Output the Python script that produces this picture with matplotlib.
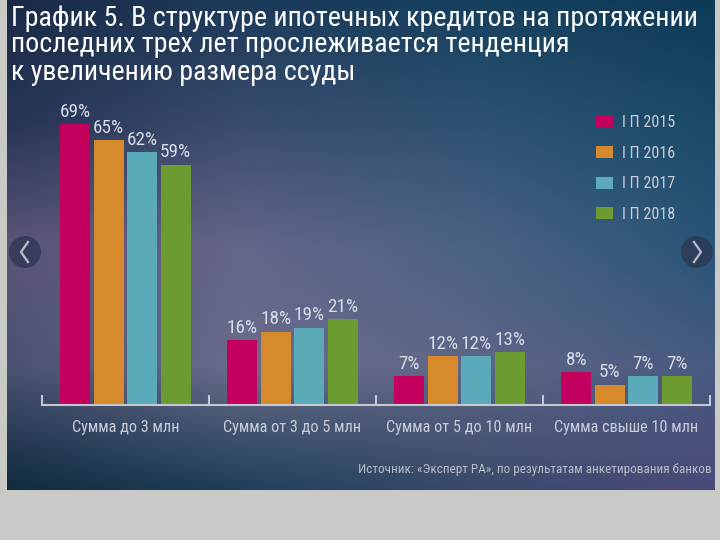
import numpy as np
import matplotlib
matplotlib.use("Agg")
import matplotlib.pyplot as plt
from matplotlib import font_manager
from matplotlib.colors import to_rgb

# Узкий шрифт, если есть
available = {f.name for f in font_manager.fontManager.ttflist}
narrow = 'DejaVu Sans'
for name in ['Liberation Sans Narrow', 'Roboto Condensed', 'Open Sans Condensed', 'Liberation Sans', 'Roboto']:
    if name in available:
        narrow = name
        break
plt.rcParams['font.family'] = [narrow, 'DejaVu Sans']

# Данные
categories = ['Сумма до 3 млн', 'Сумма от 3 до 5 млн', 'Сумма от 5 до 10 млн', 'Сумма свыше 10 млн']
series = ['I П 2015', 'I П 2016', 'I П 2017', 'I П 2018']
values = [
    [69, 16, 7, 8],
    [65, 18, 12, 5],
    [62, 19, 12, 7],
    [59, 21, 13, 7],
]
colors = ['#c4005f', '#d68a2c', '#5aaab9', '#6c9b32']

W, H = 720, 540
fig = plt.figure(figsize=(W / 100, H / 100), dpi=100)
fig.patch.set_facecolor('#c9c9c5')
renderer = fig.canvas.get_renderer()


def fit(t, target_px):
    w = t.get_window_extent(renderer=renderer).width
    t.set_fontsize(t.get_fontsize() * target_px / w)


# фон-градиент (сетка опорных цветов)
grid = [
    ['#1a2a46', '#1c3a5a', '#15405e', '#0e3a56'],
    ['#283555', '#3a4c6c', '#2e5272', '#1a4a68'],
    ['#5a5478', '#64668a', '#4a6284', '#285578'],
    ['#4a5272', '#6a6c8a', '#5e6686', '#485a80'],
    ['#102a3e', '#1e4058', '#3a4a6a', '#4a4a78'],
]
gy = np.linspace(0, 1, len(grid))
gx = np.linspace(0, 1, len(grid[0]))
ctrl = np.array([[to_rgb(c) for c in row] for row in grid])
ny, nx = 245, 354
ys = np.linspace(0, 1, ny)
xs = np.linspace(0, 1, nx)
tmp = np.stack([np.stack([np.interp(xs, gx, ctrl[i, :, k]) for k in range(3)], -1) for i in range(len(grid))])
img = np.stack([np.stack([np.interp(ys, gy, tmp[:, j, k]) for k in range(3)], -1) for j in range(nx)], 1)

bg = fig.add_axes([7 / W, 1 - 490 / H, 708 / W, 490 / H])
bg.axis('off')
bg.imshow(img, aspect='auto', extent=[0, 708, 490, 0], interpolation='bilinear')
bg.set_xlim(0, 708)
bg.set_ylim(490, 0)

# стрелки навигации
for cx, d in [(18, -1), (690, 1)]:
    bg.add_patch(plt.Circle((cx, 252), 16, color='#2c3650', alpha=0.75, ec='none'))
    bg.plot([cx - 3 * d, cx + 4 * d, cx - 3 * d], [242, 252, 262], color='#b8bccb', lw=1.6)

# заголовок
title_lines = ['График 5. В структуре ипотечных кредитов на протяжении',
               'последних трех лет прослеживается тенденция',
               'к увеличению размера ссуды']
t0 = fig.text(11 / W, 1 - 18 / H, title_lines[0], color='white', fontsize=18, va='center', ha='left')
fit(t0, 690)
for i, line in enumerate(title_lines[1:], 1):
    fig.text(11 / W, 1 - (18 + 27 * i) / H, line, color='white', fontsize=t0.get_fontsize(),
             va='center', ha='left')

ax = fig.add_axes([42 / W, 1 - 405 / H, 668 / W, 326 / H])
ax.patch.set_alpha(0)
x = np.arange(len(categories))
width = 0.18
gap = 0.02
lbl_size = None
for i, (name, vals) in enumerate(zip(series, values)):
    pos = x + (i - 1.5) * (width + gap)
    ax.bar(pos, vals, width, color=colors[i], label=name)
    for p, val in zip(pos, vals):
        t = ax.text(p, val + 0.8, f'{val}%', ha='center', va='bottom', color='#d8dbe6', fontsize=12)
        if lbl_size is None:
            fit(t, 31)
            lbl_size = t.get_fontsize()
        t.set_fontsize(lbl_size)

ax.set_xlim(-0.5, 3.5)
ax.set_ylim(0, 80)
for s in ['top', 'right', 'left']:
    ax.spines[s].set_visible(False)
ax.spines['bottom'].set_color('#c4c6d0')
ax.spines['bottom'].set_linewidth(1.5)
ax.set_yticks([])
ax.set_xticks([-0.5, 0.5, 1.5, 2.5, 3.5])
ax.set_xticklabels([])
ax.tick_params(axis='x', direction='in', length=7, width=1.5, color='#c4c6d0')
cat_size = None
for xi, c in zip(x, categories):
    t = ax.text(xi, -3.6, c, ha='center', va='top', color='#c8ccd8', fontsize=12)
    if cat_size is None:
        fit(t, 108)
        cat_size = t.get_fontsize()
    t.set_fontsize(cat_size)

# легенда: размер шрифта подгоняется под ширину подписи
probe = fig.text(0, 0, series[0], fontsize=12)
fit(probe, 53)
leg_fs = probe.get_fontsize()
probe.remove()
fs_px = leg_fs * 100 / 72
leg = ax.legend(loc='upper left',
                bbox_to_anchor=((596 - 0.4 * fs_px - 42) / 668, 1 - (122 - 7 - 0.4 * fs_px - 79) / 326),
                frameon=False, handlelength=17 / fs_px, handleheight=12 / fs_px,
                labelspacing=(35 - 1.2 * fs_px) / fs_px, fontsize=leg_fs,
                handletextpad=9 / fs_px, borderaxespad=0, borderpad=0.4)
for t in leg.get_texts():
    t.set_color('#c8ccd8')

src = fig.text(712 / W, 1 - 470 / H, 'Источник: «Эксперт РА», по результатам анкетирования банков',
               ha='right', va='center', color='#b8bcc8', fontsize=10.5)
fit(src, 357)

fig.savefig('out.png', dpi=100, facecolor=fig.get_facecolor())
